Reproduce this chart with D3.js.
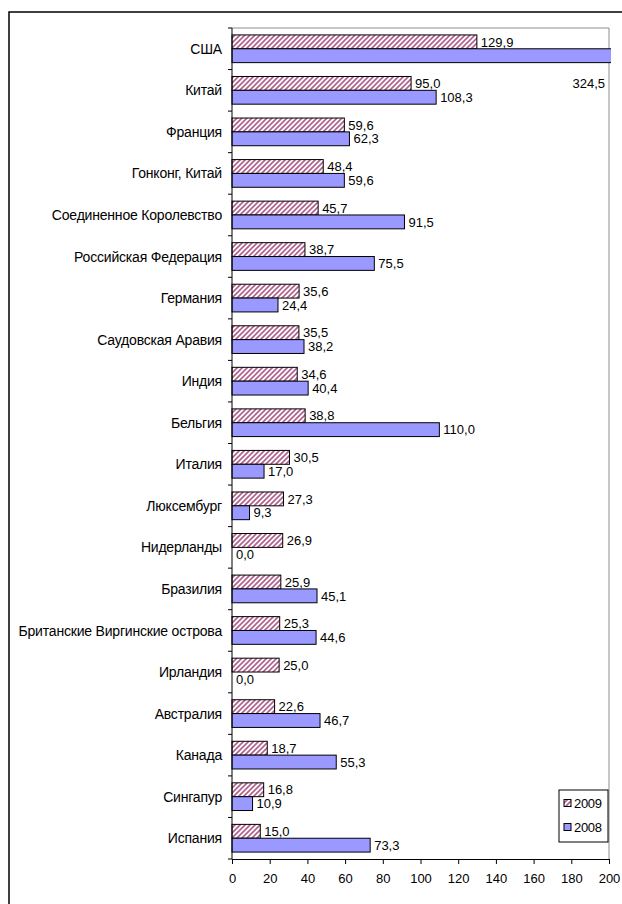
<!DOCTYPE html>
<html>
<head>
<meta charset="utf-8">
<script src="https://cdn.jsdelivr.net/npm/d3@7"></script>
<style>
  body { margin: 0; background: #fff; }
  text { font-family: Arial, "Liberation Sans", sans-serif; fill: #000; }
</style>
</head>
<body>
<div id="chart"></div>
<script>
const countries = [
  "США", "Китай", "Франция", "Гонконг, Китай", "Соединенное Королевство",
  "Российская Федерация", "Германия", "Саудовская Аравия", "Индия", "Бельгия",
  "Италия", "Люксембург", "Нидерланды", "Бразилия", "Британские Виргинские острова",
  "Ирландия", "Австралия", "Канада", "Сингапур", "Испания"
];
const values2009 = [129.9, 95.0, 59.6, 48.4, 45.7, 38.7, 35.6, 35.5, 34.6, 38.8,
  30.5, 27.3, 26.9, 25.9, 25.3, 25.0, 22.6, 18.7, 16.8, 15.0];
const values2008 = [324.5, 108.3, 62.3, 59.6, 91.5, 75.5, 24.4, 38.2, 40.4, 110.0,
  17.0, 9.3, 0.0, 45.1, 44.6, 0.0, 46.7, 55.3, 10.9, 73.3];
const seriesNames = ["2009", "2008"];
const xTicks = [0, 20, 40, 60, 80, 100, 120, 140, 160, 180, 200];

const width = 622;
const height = 904;
const plot = { left: 232, right: 609, top: 28, bottom: 859 };

const fmt = v => v.toFixed(1).replace(".", ",");

const rows = countries.map((c, i) => ({ name: c, v2009: values2009[i], v2008: values2008[i] }));

const svg = d3.select("#chart").append("svg")
    .attr("width", width)
    .attr("height", height);

const defs = svg.append("defs");
const hatch = defs.append("pattern")
    .attr("id", "hatch")
    .attr("patternUnits", "userSpaceOnUse")
    .attr("width", 5)
    .attr("height", 5);
hatch.append("rect").attr("width", 5).attr("height", 5).attr("fill", "#fff");
hatch.append("path")
    .attr("d", "M-1,1 l2,-2 M0,5 l5,-5 M4,6 l2,-2")
    .attr("stroke", "#b2628e")
    .attr("stroke-width", 1.7);

defs.append("clipPath").attr("id", "plotClip")
  .append("rect")
    .attr("x", plot.left - 2)
    .attr("y", plot.top)
    .attr("width", plot.right - plot.left + 4)
    .attr("height", plot.bottom - plot.top);

// outer chart frame
svg.append("rect")
    .attr("x", 9)
    .attr("y", 12)
    .attr("width", 700)
    .attr("height", 1000)
    .attr("fill", "none")
    .attr("stroke", "#000")
    .attr("stroke-width", 1.5);

const x = d3.scaleLinear().domain([0, 200]).range([plot.left, plot.right]);
const y = d3.scaleBand().domain(countries).range([plot.top, plot.bottom]).paddingInner(0).paddingOuter(0);
const inner = d3.scaleBand().domain(seriesNames)
    .range([y.bandwidth() / 6, y.bandwidth() * 5 / 6]);

// plot area border (grey)
svg.append("path")
    .attr("d", `M${plot.left},${plot.top}H${plot.right}V${plot.bottom}`)
    .attr("fill", "none")
    .attr("stroke", "#8c8c8c")
    .attr("stroke-width", 1);

const bars = svg.append("g").attr("clip-path", "url(#plotClip)");
const series = [
  { key: "2009", get: d => d.v2009, fill: "url(#hatch)" },
  { key: "2008", get: d => d.v2008, fill: "#9999ff" }
];

series.forEach(s => {
  bars.selectAll(".bar-" + s.key)
    .data(rows)
    .enter()
    .append("rect")
    .attr("class", "bar-" + s.key)
    .attr("x", x(0))
    .attr("y", d => y(d.name) + inner(s.key))
    .attr("width", d => Math.min(x(s.get(d)), plot.right + 3) - x(0))
    .attr("height", inner.bandwidth())
    .attr("fill", s.fill)
    .attr("stroke", "#000")
    .attr("stroke-width", 1);
});

// value labels
series.forEach(s => {
  svg.selectAll(".lbl-" + s.key)
    .data(rows)
    .enter()
    .append("text")
    .attr("class", "lbl-" + s.key)
    .attr("x", d => s.get(d) > 200 ? x(200) - 4 : x(s.get(d)) + 4)
    .attr("y", (d, i) => s.get(d) > 200
        ? y(countries[i + 1]) + inner("2009") + inner.bandwidth() / 2
        : y(d.name) + inner(s.key) + inner.bandwidth() / 2)
    .attr("dy", "0.36em")
    .attr("text-anchor", d => s.get(d) > 200 ? "end" : "start")
    .style("font-size", "13px")
    .text(d => fmt(s.get(d)));
});

// axes
const yAxis = svg.append("g").attr("transform", `translate(${plot.left},0)`);
yAxis.append("line")
    .attr("x1", 0).attr("x2", 0)
    .attr("y1", plot.top).attr("y2", plot.bottom)
    .attr("stroke", "#000");
yAxis.selectAll(".ytick")
    .data(countries.map(c => y(c)).concat([plot.bottom]))
    .enter()
    .append("line")
    .attr("x1", -4).attr("x2", 0)
    .attr("y1", d => d).attr("y2", d => d)
    .attr("stroke", "#000");
yAxis.selectAll(".ylbl")
    .data(countries)
    .enter()
    .append("text")
    .attr("x", -10)
    .attr("y", d => y(d) + y.bandwidth() / 2)
    .attr("dy", "0.36em")
    .attr("text-anchor", "end")
    .style("font-size", "14px")
    .style("letter-spacing", "-0.2px")
    .text(d => d);

const xAxisGroup = svg.append("g")
    .attr("transform", `translate(0,${plot.bottom})`)
    .call(d3.axisBottom(x).tickValues(xTicks).tickSize(5).tickSizeOuter(0).tickPadding(10).tickFormat(d3.format("d")));
xAxisGroup.select(".domain").attr("stroke", "#000");
xAxisGroup.selectAll(".tick line").attr("stroke", "#000");
xAxisGroup.selectAll("text")
    .style("font-size", "13px")
    .style("font-family", "Arial, 'Liberation Sans', sans-serif")
    .attr("fill", "#000");

// legend
const legend = svg.append("g").attr("transform", "translate(559,790)");
legend.append("rect")
    .attr("width", 49)
    .attr("height", 52)
    .attr("fill", "#fff")
    .attr("stroke", "#000");
series.forEach((s, i) => {
  const row = legend.append("g").attr("transform", `translate(5,${13 + i * 24})`);
  row.append("rect")
    .attr("x", 0).attr("y", -3.5)
    .attr("width", 7).attr("height", 7)
    .attr("fill", s.fill)
    .attr("stroke", "#000");
  row.append("text")
    .attr("x", 10)
    .attr("dy", "0.36em")
    .style("font-size", "13px")
    .style("letter-spacing", "-0.3px")
    .text(seriesNames[i]);
});
</script>
</body>
</html>
